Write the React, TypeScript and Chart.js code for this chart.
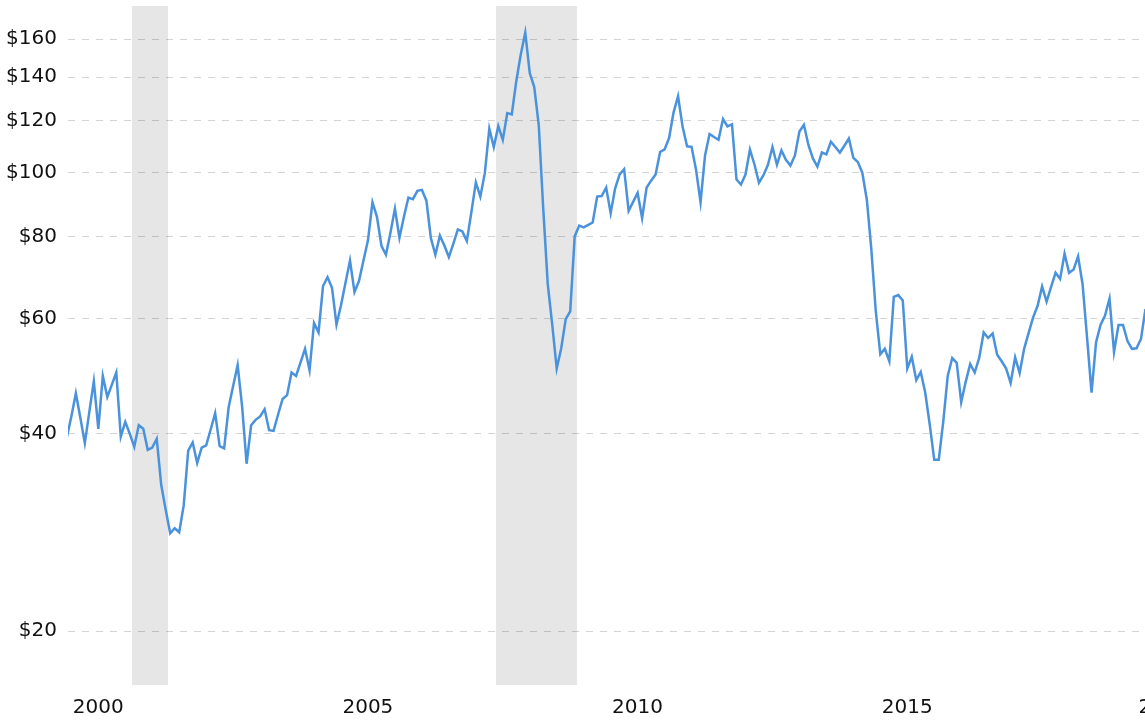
import React, { useEffect, useRef } from "react";
import { Chart, registerables } from "chart.js";

Chart.register(...registerables);

// Monthly series, first value = December 1999
const seriesStartYear = 1999;
const seriesStartMonth = 12;
const prices: number[] = [
  39.5,
  // 2000
  42.5, 46.1, 42.3, 38.7, 43.2, 48.1, 40.7, 49.0, 45.5, 47.5, 49.6, 39.6,
  // 2001
  41.7, 40.0, 38.2, 41.2, 40.7, 37.8, 38.1, 39.3, 33.4, 30.6, 28.2, 28.7,
  // 2002
  28.3, 31.1, 37.7, 38.8, 36.1, 38.1, 38.4, 40.6, 43.0, 38.3, 38.0, 43.9,
  // 2003
  47.3, 50.9, 44.0, 36.0, 41.2, 42.0, 42.5, 43.6, 40.5, 40.4, 42.8, 45.2,
  // 2004
  45.8, 49.6, 49.0, 51.4, 53.9, 50.0, 59.0, 57.1, 67.2, 69.3, 66.8, 58.7,
  // 2005
  62.8, 68.0, 73.5, 65.8, 68.4, 73.5, 78.9, 90.2, 85.7, 77.4, 75.0, 81.0,
  // 2006
  88.2, 79.6, 85.7, 91.7, 91.2, 93.9, 94.2, 90.7, 79.5, 75.0, 80.2, 77.5,
  // 2007
  74.4, 78.0, 82.0, 81.4, 78.7, 87.0, 96.7, 92.0, 99.9, 116.8, 109.5, 117.9,
  // 2008
  112.3, 123.4, 122.8, 138.0, 151.6, 163.7, 142.0, 135.2, 118.3, 88.2, 67.7, 58.7,
  // 2009
  50.3, 54.0, 59.8, 61.5, 80.0, 83.1, 82.6, 83.3, 84.0, 92.0, 92.2, 95.0,
  // 2010
  86.8, 94.7, 99.5, 101.3, 87.5, 90.3, 93.2, 85.3, 95.0, 97.3, 99.4, 107.6,
  // 2011
  108.6, 113.0, 123.7, 130.9, 117.7, 109.8, 109.6, 101.1, 90.2, 106.3, 114.6, 113.4,
  // 2012
  112.3, 120.8, 117.7, 118.6, 97.7, 96.0, 99.4, 108.5, 103.0, 96.6, 99.2, 102.9,
  // 2013
  109.5, 102.9, 108.2, 104.7, 102.6, 106.3, 115.6, 118.4, 110.3, 105.2, 102.2, 107.4,
  // 2014
  106.7, 111.6, 109.5, 107.4, 110.0, 112.8, 105.4, 103.9, 100.0, 91.0, 76.5, 61.4,
  // 2015
  52.9, 53.9, 51.6, 64.7, 65.1, 63.9, 50.3, 52.4, 48.3, 49.7, 46.2, 41.3,
  // 2016
  36.5, 36.5, 41.7, 49.0, 52.2, 51.3, 44.7, 48.0, 51.1, 49.6, 52.2, 57.1,
  // 2017
  56.0, 56.9, 52.8, 51.6, 50.3, 47.8, 52.3, 49.5, 53.9, 57.0, 60.2, 62.7,
  // 2018
  67.1, 63.6, 67.0, 70.4, 68.9, 75.3, 70.4, 71.2, 74.6, 67.7, 56.1, 46.2,
  // 2019
  55.1, 58.6, 60.6, 64.3, 53.3, 58.6, 58.6, 55.4, 53.9, 54.0, 55.8, 62.0,
];

const yTickValues = [20, 40, 60, 80, 100, 120, 140, 160];
const xTickYears = [2000, 2005, 2010, 2015, 2020];
// [start year, start month, end year, end month]
const recessions: [number, number, number, number][] = [
  [2001, 3, 2001, 11],
  [2007, 12, 2009, 6],
];

const X_MIN = 1999.9796;
const X_MAX = 2019.9496;
const Y_MIN = 16.55;
const Y_MAX = 179.7;

const monthStart = (y: number, m: number) => y + (m - 1) / 12;

const points = prices.map((v, i) => {
  const mIndex = seriesStartMonth - 1 + i;
  const year = seriesStartYear + Math.floor(mIndex / 12);
  const month = (mIndex % 12) + 1;
  return { x: monthStart(year, month) + 0.5 / 12, y: v };
});

const bandPlugin = {
  id: "recessionBands",
  beforeDraw(chart: any) {
    const { ctx, chartArea, scales } = chart;
    const x = scales.x;
    ctx.save();
    ctx.fillStyle = "#e6e6e6";
    for (const [y0, m0, y1, m1] of recessions) {
      const p0 = x.getPixelForValue(monthStart(y0, m0));
      const p1 = x.getPixelForValue(monthStart(y1, m1));
      ctx.fillRect(p0, chartArea.top, p1 - p0, chartArea.bottom - chartArea.top);
    }
    ctx.restore();
  },
};

const fontSpec = { family: "'DejaVu Sans', Verdana, sans-serif", size: 20 };

export default function App() {
  const ref = useRef<HTMLCanvasElement>(null);
  useEffect(() => {
    if (!ref.current) return;
    const chart = new Chart(ref.current, {
      type: "line",
      data: {
        datasets: [
          {
            data: points,
            borderColor: "#4a92dc",
            borderWidth: 2.5,
            pointRadius: 0,
            tension: 0,
            fill: false,
            clip: 0,
          } as any,
        ],
      },
      plugins: [bandPlugin],
      options: {
        animation: false,
        responsive: false,
        layout: { padding: { top: 6, left: 0, right: 0, bottom: 0 } },
        plugins: { legend: { display: false }, tooltip: { enabled: false } },
        scales: {
          x: {
            type: "linear",
            min: X_MIN,
            max: X_MAX,
            bounds: "data",
            grid: { display: false, drawTicks: false },
            border: { display: false },
            ticks: {
              autoSkip: false,
              maxRotation: 0,
              minRotation: 0,
              padding: 11,
              color: "#111",
              font: fontSpec,
              callback: (v: any) => String(Math.floor(Number(v))),
            },
            afterBuildTicks: (scale: any) => {
              scale.ticks = xTickYears.map((y) => ({
                value: Math.min(y + 0.54, X_MAX + 0.35),
              }));
            },
            afterFit: (scale: any) => {
              scale.height = 40;
              scale.paddingLeft = 0;
              scale.paddingRight = 0;
            },
          } as any,
          y: {
            type: "logarithmic",
            min: Y_MIN,
            max: Y_MAX,
            bounds: "data",
            grid: {
              color: "rgba(0,0,0,0.17)",
              lineWidth: 1,
              drawTicks: false,
            },
            border: { display: false, dash: [7, 7] },
            ticks: {
              padding: 11,
              color: "#111",
              font: fontSpec,
              callback: (v: any) => "$" + v,
            },
            afterBuildTicks: (scale: any) => {
              scale.ticks = yTickValues.map((v) => ({ value: v }));
            },
            afterFit: (scale: any) => {
              scale.width = 68;
              scale.paddingTop = 0;
              scale.paddingBottom = 0;
            },
          } as any,
        },
      },
    });
    return () => chart.destroy();
  }, []);
  return (
    <div
      style={{
        position: "fixed",
        left: 0,
        top: 0,
        width: 1145,
        height: 725,
        overflow: "hidden",
        background: "#fff",
      }}
    >
      <canvas ref={ref} width={1145} height={725} style={{ display: "block" }} />
    </div>
  );
}
